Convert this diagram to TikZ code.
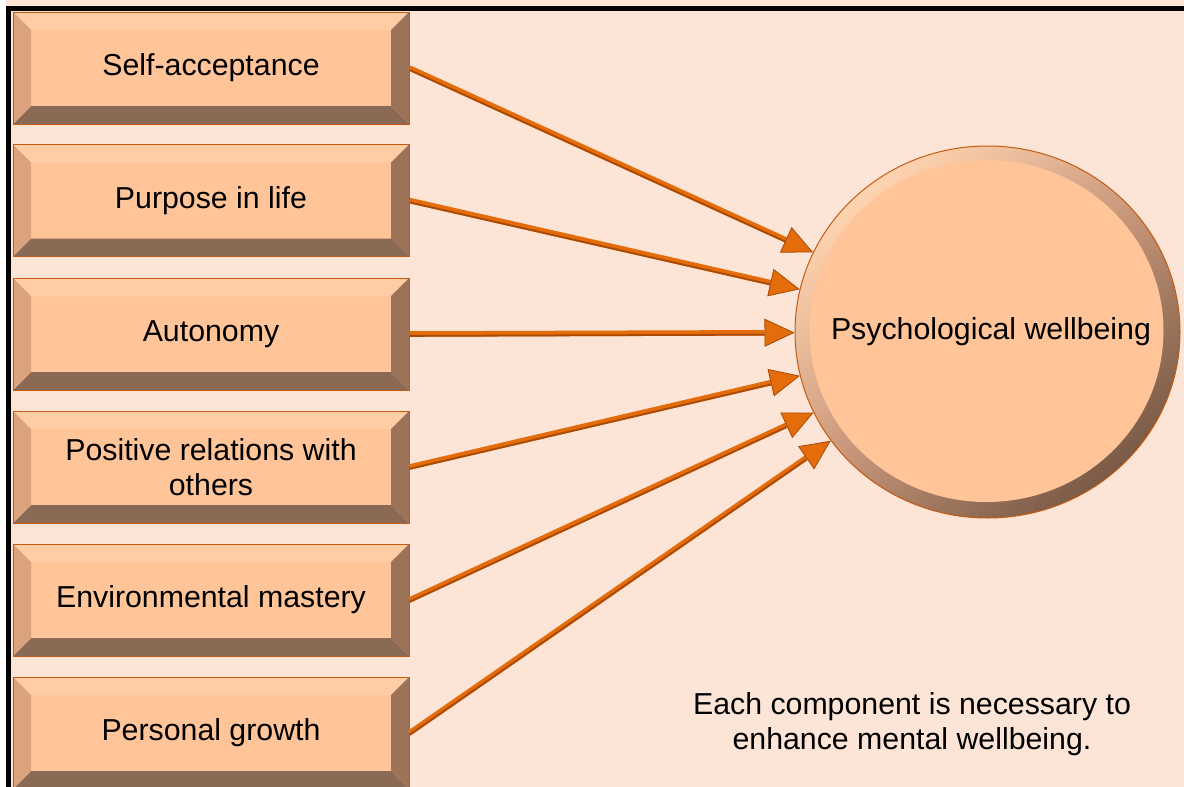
\documentclass[tikz,border=0pt]{standalone}
\usepackage{fontspec}
\setmainfont{Liberation Sans}
\usetikzlibrary{arrows.meta,shapes.geometric}
\definecolor{bg}{HTML}{FCE4D6}
\definecolor{face}{HTML}{FFC599}
\definecolor{bevtop}{HTML}{FFCDA5}
\definecolor{bevleft}{HTML}{DBA27E}
\definecolor{bevright}{HTML}{9C7259}
\definecolor{bevbot}{HTML}{8B6A55}
\definecolor{edge}{HTML}{C55A11}
\definecolor{arr}{HTML}{E46C0A}
\definecolor{arrdark}{HTML}{A84A06}
\definecolor{ringlight}{HTML}{FFD4B0}
\definecolor{ringmid}{HTML}{C8977A}
\definecolor{ringdark}{HTML}{7A5A46}
\tikzset{
  txt/.style={font=\fontsize{30.3}{35}\selectfont, align=center},
  bevelbox/.style={rectangle, minimum width=396pt, minimum height=112pt, inner sep=0pt,
    fill=face, draw=edge, line width=1pt, txt,
    path picture={
      \fill[bevtop] (path picture bounding box.north west) -- (path picture bounding box.north east)
        -- ([shift={(-18pt,-18pt)}]path picture bounding box.north east)
        -- ([shift={(18pt,-18pt)}]path picture bounding box.north west) -- cycle;
      \fill[bevbot] (path picture bounding box.south west) -- (path picture bounding box.south east)
        -- ([shift={(-18pt,18pt)}]path picture bounding box.south east)
        -- ([shift={(18pt,18pt)}]path picture bounding box.south west) -- cycle;
      \fill[bevleft] (path picture bounding box.south west) -- (path picture bounding box.north west)
        -- ([shift={(18pt,-18pt)}]path picture bounding box.north west)
        -- ([shift={(18pt,18pt)}]path picture bounding box.south west) -- cycle;
      \fill[bevright] (path picture bounding box.south east) -- (path picture bounding box.north east)
        -- ([shift={(-18pt,-18pt)}]path picture bounding box.north east)
        -- ([shift={(-18pt,18pt)}]path picture bounding box.south east) -- cycle;
    }},
  bigcircle/.style={ellipse, minimum width=385pt, minimum height=372pt, inner sep=0pt,
    draw=edge, line width=1pt,
    path picture={
      \shade[top color=ringlight, bottom color=ringdark, middle color=ringmid, shading angle=40]
        (path picture bounding box.south west) rectangle (path picture bounding box.north east);
      \fill[face] ([shift={(-1pt,1pt)}]path picture bounding box.center) ellipse [x radius=177pt, y radius=171pt];
    }},
  link/.style={draw=arr, line width=5.5pt,
    -{Triangle[length=30pt,width=28pt,line width=0.8pt,color=arrdark,fill=arr]}},
  linkshade/.style={draw=arrdark, line width=1.8pt, shorten >=30pt, transform canvas={yshift=-1.9pt}},
}
\begin{document}
\begin{tikzpicture}[x=1pt,y=1pt]
\useasboundingbox (0,0) rectangle (1184,-787);
\fill[bg] (0,0) rectangle (1184,-787);
\fill[white] (0,0) rectangle (6,-787);
\draw[line width=4.5pt] (8.5,-787) -- (8.5,-8.5) -- (1184,-8.5);

\node[bevelbox] (b1) at (211,-68) {Self-acceptance};
\node[bevelbox] (b2) at (211,-200.5) {Purpose in life};
\node[bevelbox] (b3) at (211,-334) {Autonomy};
\node[bevelbox] (b4) at (211,-467) {Positive relations with\\others};
\node[bevelbox] (b5) at (211,-600) {Environmental mastery};
\node[bevelbox] (b6) at (211,-733) {Personal growth};

\node[bigcircle] (pw) at (987.5,-332) {};
\node[txt] (pwtext) at (991,-332) {Psychological wellbeing};

\node[txt] (note) at (912,-724) {Each component is necessary to\\enhance mental wellbeing.};

\foreach \i in {1,...,6} {
  \draw[link] (b\i.east) -- (pw);
  \draw[linkshade] (b\i.east) -- (pw);
}
\end{tikzpicture}
\end{document}
